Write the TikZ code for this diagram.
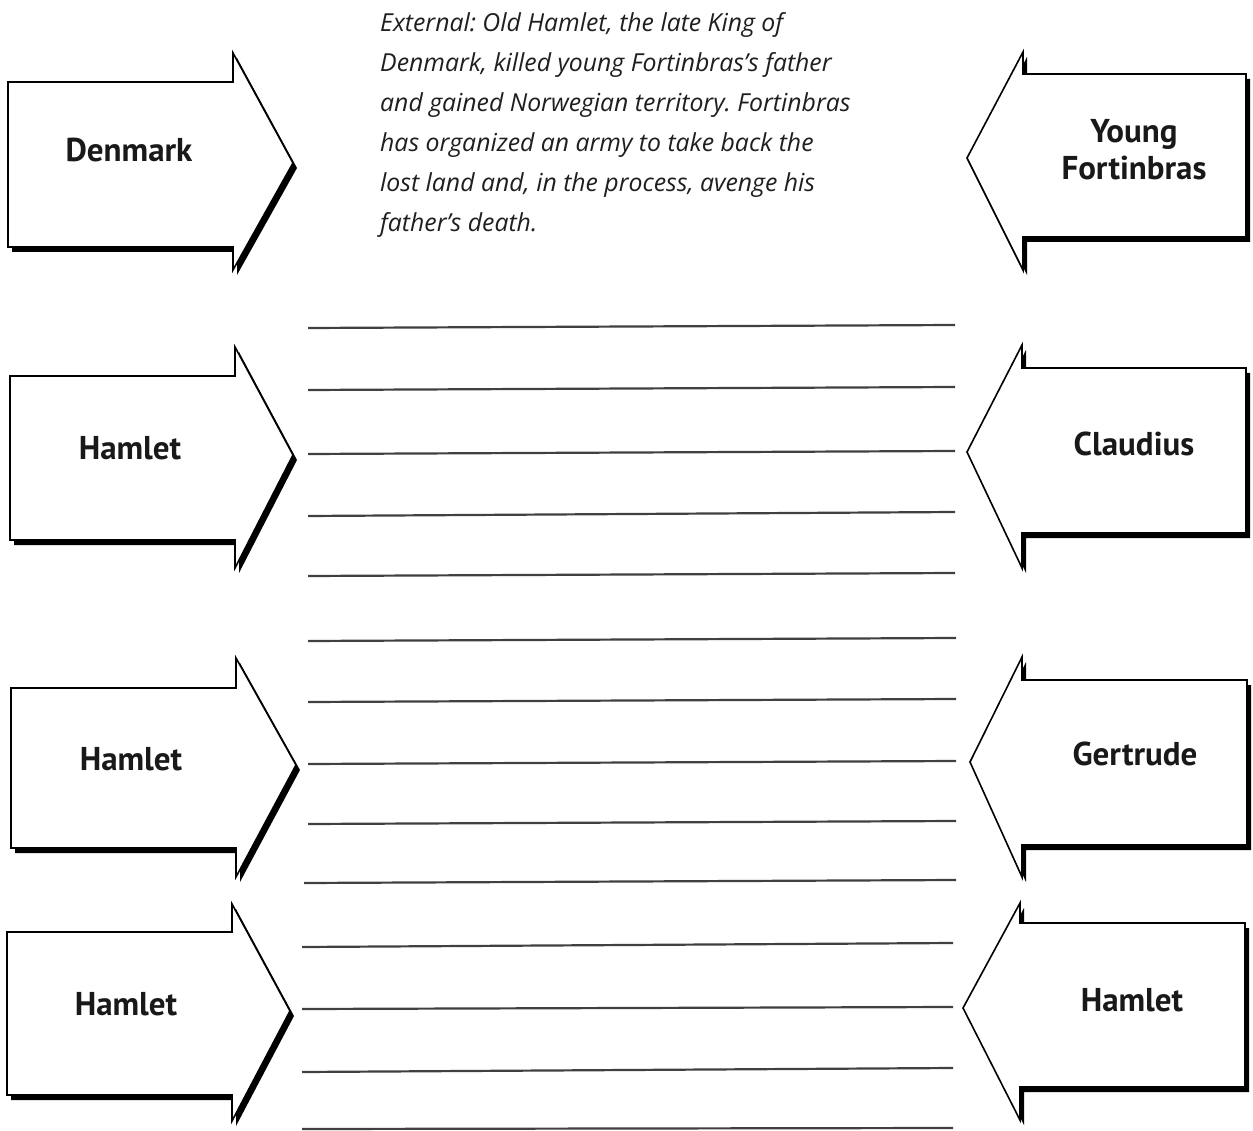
\documentclass[tikz,border=0pt]{standalone}
\usepackage{fontspec}
\setmainfont{PT Sans}
\newfontfamily\notefont{Open Sans}
\frenchspacing
\begin{document}
\begin{tikzpicture}[x=1pt,y=-1pt,
  arrowbox/.style={draw=black,line width=1.6pt,fill=white,line join=miter},
  arrowshadow/.style={fill=black},
  label/.style={font=\fontsize{33}{37}\selectfont\bfseries,text=black!90,inner sep=0pt,align=center},
  note/.style={font=\notefont\fontsize{24.8}{40.1}\selectfont\itshape,text=black!88,inner sep=0pt,align=left},
  ruleline/.style={draw=black!75,line width=2.2pt}]
\useasboundingbox[fill=white] (0,0) rectangle (1253,1131);
% #1 x back, #2 x neck, #3 x tip, #4 head top, #5 body top, #6 tip y, #7 body bottom, #8 head bottom
\newcommand\ArrowShape[8]{%
  \fill[arrowshadow,shift={(4,5)}] (#1,#5) -- (#2,#5) -- (#2,#4) -- (#3,#6) -- (#2,#8) -- (#2,#7) -- (#1,#7) -- cycle;
  \draw[arrowbox] (#1,#5) -- (#2,#5) -- (#2,#4) -- (#3,#6) -- (#2,#8) -- (#2,#7) -- (#1,#7) -- cycle;}
% left column arrows (pointing right)
\ArrowShape{8}{233}{293}{53}{82}{163}{247}{270}
\ArrowShape{10}{235}{293}{347}{376}{455}{540}{568}
\ArrowShape{11}{236}{296}{658}{688}{765}{848}{877}
\ArrowShape{7}{232}{290}{904}{932}{1011}{1095}{1121}
% right column arrows (pointing left)
\ArrowShape{1246}{1023}{967}{52}{74}{158}{237}{270}
\ArrowShape{1246}{1022}{967}{345}{368}{452}{533}{568}
\ArrowShape{1247}{1022}{970}{657}{680}{762}{845}{877}
\ArrowShape{1245}{1020}{963}{903}{923}{1008}{1087}{1120}
% labels
\node[label,anchor=base] (denmark) at (129,162) {Denmark};
\node[label,anchor=base] (hamleta) at (130,459) {Hamlet};
\node[label,anchor=base] (hamletb) at (131,770) {Hamlet};
\node[label,anchor=base] (hamletc) at (126,1015) {Hamlet};
\node[label,anchor=base] (fortinbras) at (1134,180) {Young\\Fortinbras};
\node[label,anchor=base] (claudius) at (1134,455) {Claudius};
\node[label,anchor=base] (gertrude) at (1135,765) {Gertrude};
\node[label,anchor=base] (hamletd) at (1132,1011) {Hamlet};
% note
\node[note,anchor=base west] (external) at (380,232) {External: Old Hamlet, the late King of\\
Denmark, killed young Fortinbras’s father\\
and gained Norwegian territory. Fortinbras\\
has organized an army to take back the\\
lost land and, in the process, avenge his\\
father’s death.};
% writing lines
\draw[ruleline] (308,328) -- (955,325);
\draw[ruleline] (308,390) -- (955,387);
\draw[ruleline] (308,454) -- (955,451);
\draw[ruleline] (308,516) -- (955,512);
\draw[ruleline] (308,576) -- (955,573);
\draw[ruleline] (308,641) -- (956,638);
\draw[ruleline] (308,702) -- (956,699);
\draw[ruleline] (308,764) -- (956,761);
\draw[ruleline] (308,824) -- (956,821);
\draw[ruleline] (304,883) -- (956,880);
\draw[ruleline] (302,947) -- (953,943);
\draw[ruleline] (302,1009) -- (953,1007);
\draw[ruleline] (302,1072) -- (953,1068);
\draw[ruleline] (302,1129) -- (953,1128);
\end{tikzpicture}
\end{document}
